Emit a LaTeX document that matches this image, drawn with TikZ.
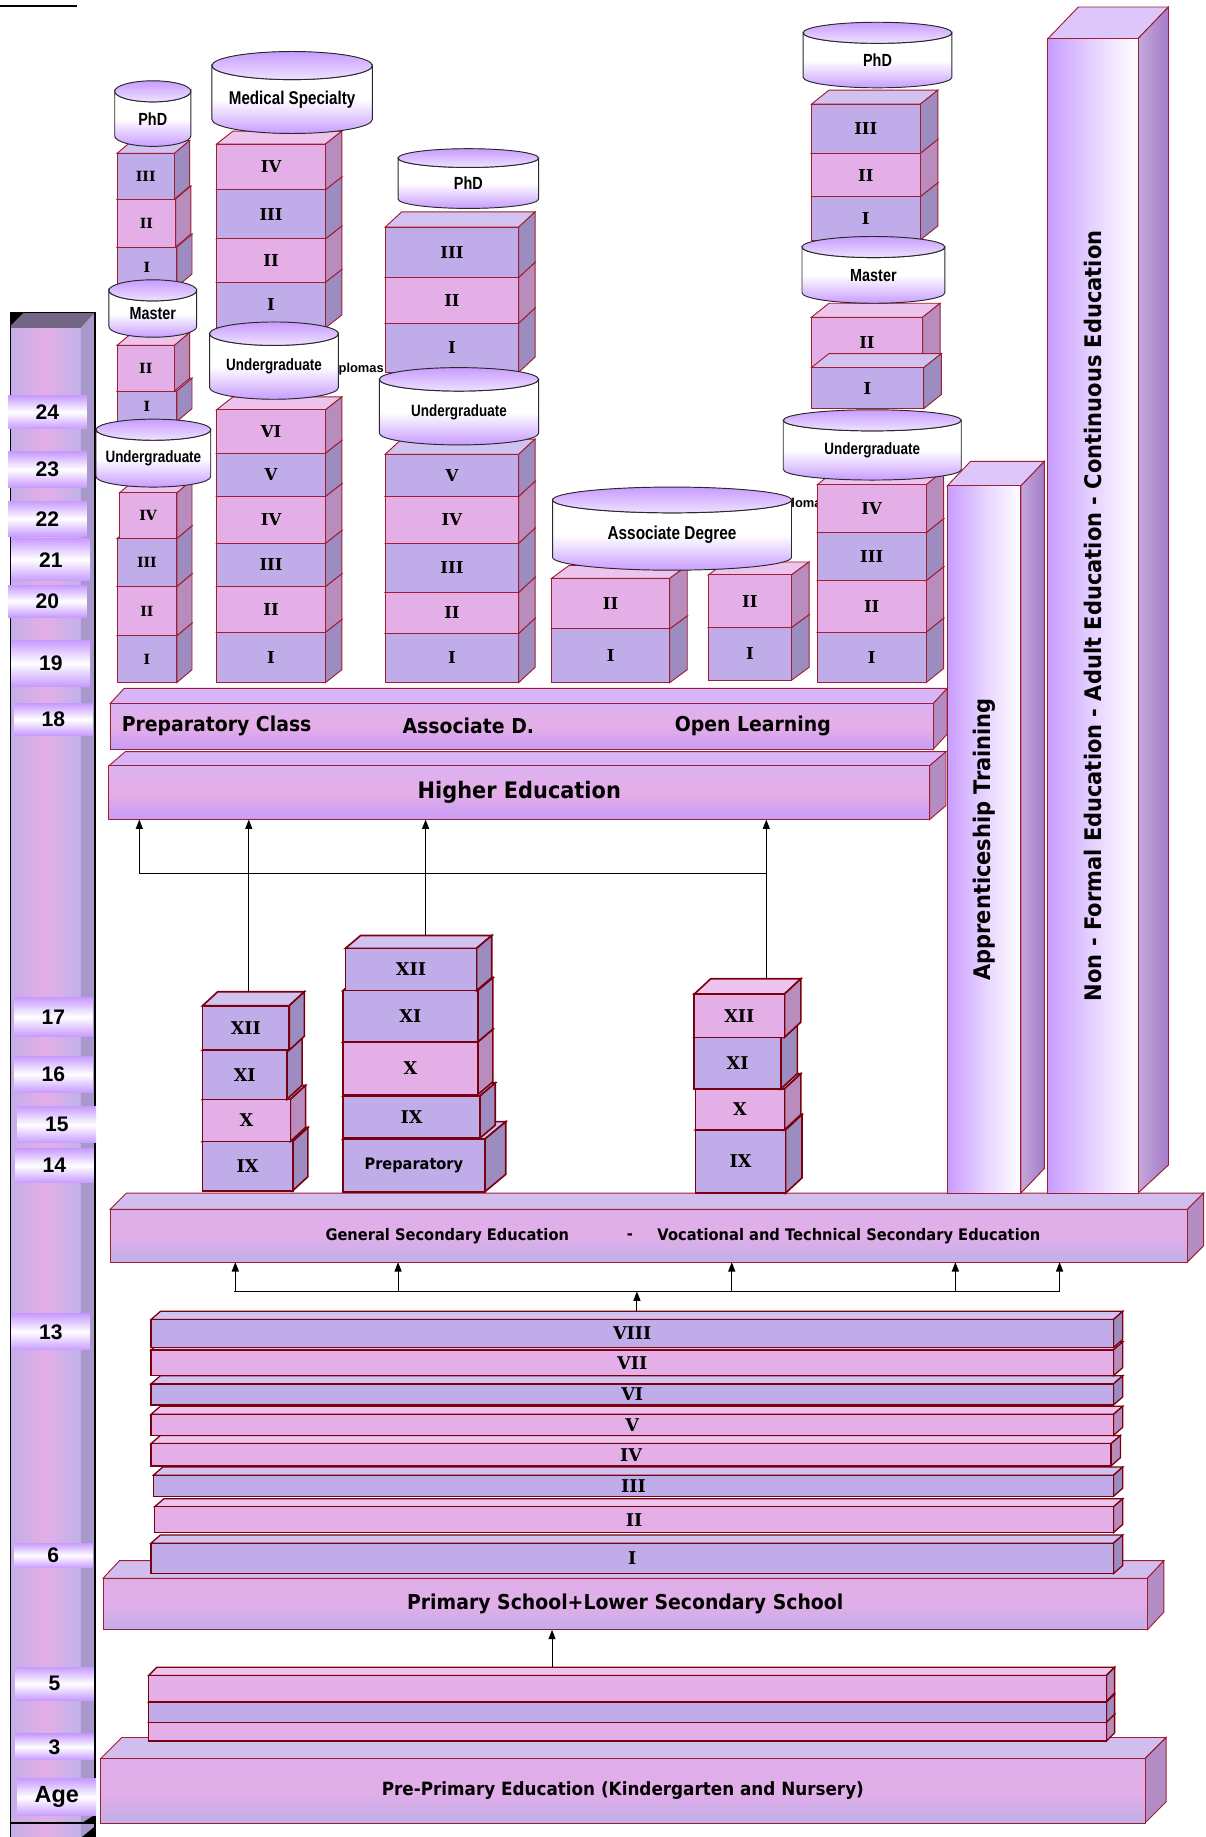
\documentclass[tikz,border=0pt]{standalone}
\usepackage{fontspec}
\usetikzlibrary{arrows.meta,positioning}

\newfontfamily\tahoma[FakeStretch=0.92]{DejaVu Sans}
\newfontfamily\narrowfont[FakeStretch=0.82]{Liberation Sans}
\newfontfamily\romanfont{DejaVu Serif}
\newfontfamily\agefont{Liberation Sans}
\newcommand{\sz}[1]{\fontsize{#1}{#1}\selectfont}

\definecolor{glav}{HTML}{C0ACE8}
\definecolor{glavtop}{HTML}{D2C2F0}
\definecolor{glavside}{HTML}{9C8CC0}
\definecolor{gpink}{HTML}{E4AEE6}
\definecolor{gpinktop}{HTML}{ECC4EE}
\definecolor{gpinkside}{HTML}{B88CBC}
\definecolor{cylv}{HTML}{C89CFF}
\definecolor{cylline}{HTML}{2A2A2A}
\definecolor{boxline}{HTML}{A01E32}
\definecolor{darkline}{HTML}{7A0010}
\definecolor{hiA}{HTML}{DCB2F2}
\definecolor{hiB}{HTML}{E4AEE6}
\definecolor{hiC}{HTML}{C89CF8}
\definecolor{hiTop}{HTML}{D8B4F8}
\definecolor{loA}{HTML}{DCAEE8}
\definecolor{loB}{HTML}{E2AEE8}
\definecolor{loC}{HTML}{C2AEEA}
\definecolor{loTop}{HTML}{D2BEEE}
\definecolor{sideBar}{HTML}{B48CC4}
\definecolor{ageL}{HTML}{C4AEE8}
\definecolor{ageR}{HTML}{C0B2EA}
\definecolor{ageSide}{HTML}{A898CC}
\definecolor{ageTop}{HTML}{716684}
\definecolor{tallTop}{HTML}{DCC6FA}
\definecolor{tallL}{HTML}{C4A8DC}
\definecolor{tallR}{HTML}{A47CC8}

\tikzset{
  bline/.style={draw=boxline, line width=0.8pt},
  heavy/.style={draw=darkline, line width=1.4pt},
  grade/.style={inner sep=0pt, outer sep=0pt, font=\romanfont\bfseries\sz{14}},
  cylbody/.style={draw=cylline, line width=0.8pt, top color=white, bottom color=cylv, middle color=white},
  cyltop/.style={draw=cylline, line width=0.8pt, top color=cylv, bottom color=cylv!30},
  cyltext/.style={font=\narrowfont\bfseries\sz{14}},
  wide/.style={inner sep=0pt, outer sep=0pt, font=\tahoma\bfseries\sz{19.4}},
  hifront/.style={top color=hiA, bottom color=hiC, middle color=hiB},
  lofront/.style={top color=loA, bottom color=loC, middle color=loB},
  bartext/.style={font=\tahoma\bfseries\sz{17.5}},
  agebox/.style={inner sep=0pt, minimum width=67pt, top color=cylv, bottom color=cylv, middle color=white, font=\agefont\bfseries\sz{18}},
  dipl/.style={font=\agefont\bfseries\sz{11}},
  tall/.style={inner sep=0pt, outer sep=0pt, bline, left color=cylv, right color=white, middle color=cylv!45},
  talltext/.style={rotate=90, font=\tahoma\bfseries\sz{19.5}},
  arr/.style={-{Triangle[length=8pt,width=6pt]}, line width=0.9pt},
}

% box with top and side face: [style]{name}{colour}{x1}{y1}{x2}{y2}{label}
\newcommand{\gbox}[8][]{%
  \pgfmathsetmacro{\bw}{#6-#4}%
  \pgfmathsetmacro{\bh}{#7-#5}%
  \filldraw[bline, fill=#3top, #1] (#4,#5) -- ++(\bdx,-\bdy) -- ++(\bw,0) -- (#6,#5) -- cycle;
  \filldraw[bline, fill=#3side, #1] (#6,#5) -- ++(\bdx,-\bdy) -- ++(0,\bh) -- (#6,#7) -- cycle;
  \node[bline, grade, fill=#3, minimum width=\bw pt, minimum height=\bh pt, anchor=north west, #1] (#2) at (#4,#5) {#8};
  \coordinate (#2-t) at ({(#4+#6+\bdx)/2},{#5-\bdy});
}
% wide level bar: [style]{name}{x1}{y1}{x2}{y2}{label}
\newcommand{\wbar}[7][]{%
  \pgfmathsetmacro{\bw}{#5-#3}%
  \pgfmathsetmacro{\bh}{#6-#4}%
  \filldraw[bline, fill=bartop] (#3,#4) -- ++(\bdx,-\bdy) -- ++(\bw,0) -- (#5,#4) -- cycle;
  \filldraw[bline, fill=sideBar] (#5,#4) -- ++(\bdx,-\bdy) -- ++(0,\bh) -- (#5,#6) -- cycle;
  \node[bline, wide, minimum width=\bw pt, minimum height=\bh pt, anchor=north west, #1] (#2) at (#3,#4) {#7};
}
% degree cylinder: [style]{name}{x1}{x2}{ytop}{ybot}{cap}{label}
\newcommand{\cyl}[8][]{%
  \pgfmathsetmacro{\cyr}{(#4-#3)/2}%
  \pgfmathsetmacro{\cyx}{(#4+#3)/2}%
  \filldraw[cylbody] (#3,#5+#7) -- (#3,#6-#7)
    arc[start angle=180, end angle=360, x radius=\cyr pt, y radius=#7 pt]
    -- (#4,#5+#7)
    arc[start angle=0, end angle=-180, x radius=\cyr pt, y radius=#7 pt] -- cycle;
  \filldraw[cyltop] (\cyx,#5+#7) ellipse[x radius=\cyr pt, y radius=#7 pt];
  \node[cyltext, #1] (#2) at (\cyx,{(#5+#6)/2+#7/2}) {#8};
}

\begin{document}
\begin{tikzpicture}[x=1pt, y=-1pt]
\useasboundingbox (0,0) rectangle (1030,1569);

\draw[line width=1.5pt] (0,5) -- (66,5);

% age column
\fill[left color=ageL, right color=ageR, middle color=gpink] (9,280) rectangle (69,1569);
\fill[ageSide] (69,280) -- (81,267) -- (81,1569) -- (69,1569) -- cycle;
\fill[ageTop] (9,280) -- (9,267) -- (81,267) -- (69,280) -- cycle;
\fill[black] (9,267) -- (20,267) -- (9,278) -- cycle;
\draw[line width=1.2pt] (9,1569) -- (9,267) -- (81,267) -- (81,1569);
\draw[line width=1pt] (9,1557) -- (81,1557);
\fill[black] (70,1557) -- (81,1550) -- (81,1557) -- cycle;
\fill[black] (70,1569) -- (81,1560) -- (81,1569) -- cycle;
\foreach \a/\ya/\yb/\xl in {24/338/366/7, 23/386/416/7, 22/428/458/7, 21/460/496/10,
    20/500/527/7, 19/547/586/10, 18/601/628/12, 17/852/885/12, 16/902/933/12,
    15/945/976/15, 14/981/1010/13, 13/1122/1153/10, 6/1318/1339/12, 5/1424/1452/13, 3/1481/1503/13} {
  \pgfmathsetmacro{\ah}{\yb-\ya}
  \node[agebox, minimum height=\ah pt] (age\a) at ({\xl+33.5},{(\ya+\yb)/2}) {\a};
}
\node[agebox, minimum height=32pt, font=\agefont\bfseries\sz{20}] (ageAge) at (48.5,1535) {Age};

% higher education
\colorlet{bartop}{hiTop}
\def\bdx{14}\def\bdy{12}
\wbar[hifront]{he}{93}{654}{794}{700}{Higher Education}
\def\bdx{12}\def\bdy{13}
\wbar[hifront]{prep}{94}{601}{797}{640}{}
\node[bartext] (pc) at (185,620) {Preparatory Class};
\node[bartext] (ad) at (400,620) {Associate D.};
\node[bartext] (ol) at (643,620) {Open Learning};

\node[dipl] (dip1) at (303,315) {Diplomas};
\node[dipl] (dip2) at (683,431) {Diplomas};

% first column
\def\bdx{13}\def\bdy{11}
\gbox[font=\romanfont\bfseries\sz{12}]{aI}{glav}{100}{543}{151}{583}{I}
\gbox[font=\romanfont\bfseries\sz{12}]{aII}{gpink}{100}{501}{151}{543}{II}
\gbox[font=\romanfont\bfseries\sz{12}]{aIII}{glav}{100}{460}{151}{501}{III}
\gbox[font=\romanfont\bfseries\sz{12}]{aIV}{gpink}{102}{421}{151}{460}{IV}
\gbox[font=\romanfont\bfseries\sz{12}]{amI}{glav}{100}{334}{151}{360}{I}
\gbox[font=\romanfont\bfseries\sz{12}]{amII}{gpink}{100}{295}{149}{334}{II}
\cyl{aund}{82}{180}{358}{416}{9}{Undergraduate}
\gbox[font=\romanfont\bfseries\sz{12}]{apI}{glav}{100}{211}{151}{245}{I}
\gbox[font=\romanfont\bfseries\sz{12}]{apII}{gpink}{100}{170}{150}{211}{II}
\gbox[font=\romanfont\bfseries\sz{12}]{apIII}{glav}{100}{131}{149}{170}{III}
\cyl[font=\narrowfont\bfseries\sz{15}]{amas}{93}{168}{239}{288}{9}{Master}
\cyl[font=\narrowfont\bfseries\sz{15}]{aphd}{98}{163}{69}{125}{9}{PhD}

% medical column
\def\bdx{14}\def\bdy{11}
\gbox{bI}{glav}{185}{540}{278}{583}{I}
\gbox{bII}{gpink}{185}{501}{278}{540}{II}
\gbox{bIII}{glav}{185}{464}{278}{501}{III}
\gbox{bIV}{gpink}{185}{424}{278}{464}{IV}
\gbox{bV}{glav}{185}{387}{278}{424}{V}
\gbox{bVI}{gpink}{185}{350}{278}{387}{VI}
\gbox{bmI}{glav}{185}{241}{278}{280}{I}
\gbox{bmII}{gpink}{185}{204}{278}{241}{II}
\gbox{bmIII}{glav}{185}{162}{278}{204}{III}
\gbox{bmIV}{gpink}{185}{123}{278}{162}{IV}
\cyl{bund}{179}{289}{275}{341}{10}{Undergraduate}
\cyl[font=\narrowfont\bfseries\sz{15.8}]{bmed}{181}{318}{44}{114}{12}{Medical Specialty}

% third column
\def\bdx{14}\def\bdy{13}
\gbox{cI}{glav}{329}{541}{443}{583}{I}
\gbox{cII}{gpink}{329}{506}{443}{541}{II}
\gbox{cIII}{glav}{329}{464}{443}{506}{III}
\gbox{cIV}{gpink}{329}{424}{443}{464}{IV}
\gbox{cV}{glav}{329}{388}{443}{424}{V}
\gbox{cpI}{glav}{329}{276}{443}{318}{I}
\gbox{cpII}{gpink}{329}{237}{443}{276}{II}
\gbox{cpIII}{glav}{329}{194}{443}{237}{III}
\cyl{cund}{324}{460}{314}{380}{10}{Undergraduate}
\cyl[font=\narrowfont\bfseries\sz{15}]{cphd}{340}{460}{127}{178}{8}{PhD}

% associate degree
\def\bdx{15}\def\bdy{11}
\gbox{alI}{glav}{471}{537}{572}{583}{I}
\gbox{alII}{gpink}{471}{494}{572}{537}{II}
\gbox{arI}{glav}{605}{536}{676}{581}{I}
\gbox{arII}{gpink}{605}{491}{676}{536}{II}
\cyl[font=\narrowfont\bfseries\sz{16}]{assoc}{472}{676}{416}{487}{11}{Associate Degree}

% right column
\def\bdx{15}\def\bdy{12}
\gbox{dI}{glav}{698}{540}{791}{583}{I}
\gbox{dII}{gpink}{698}{496}{791}{540}{II}
\gbox{dIII}{glav}{698}{455}{791}{496}{III}
\gbox{dIV}{gpink}{698}{414}{791}{455}{IV}
\gbox{dmII}{gpink}{693}{271}{788}{314}{II}
\gbox{dmI}{glav}{693}{314}{789}{349}{I}
\cyl{dund}{669}{821}{350}{410}{9}{Undergraduate}
\gbox{dpI}{glav}{693}{168}{786}{205}{I}
\gbox{dpII}{gpink}{693}{131}{786}{168}{II}
\gbox{dpIII}{glav}{693}{89}{786}{131}{III}
\cyl[font=\narrowfont\bfseries\sz{15}]{dmas}{685}{807}{202}{259}{9}{Master}
\cyl[font=\narrowfont\bfseries\sz{15}]{dphd}{686}{813}{19}{75}{9}{PhD}

% secondary level
\colorlet{bartop}{loTop}
\def\bdx{14}\def\bdy{14}
\wbar[lofront]{gse}{94}{1033}{1014}{1078}{}
\node[font=\tahoma\bfseries\sz{13.6}] (gsea) at (382,1056) {General Secondary Education};
\node[font=\tahoma\bfseries\sz{13.6}] (gseb) at (538,1056) {-};
\node[font=\tahoma\bfseries\sz{13.6}] (gsec) at (725,1056) {Vocational and Technical Secondary Education};

\def\bdx{13}\def\bdy{12}
\gbox[heavy, font=\romanfont\bfseries\sz{15}]{sAix}{glav}{173}{975}{250}{1017}{IX}
\gbox[heavy, font=\romanfont\bfseries\sz{15}]{sAx}{gpink}{173}{939}{248}{975}{X}
\gbox[heavy, font=\romanfont\bfseries\sz{15}]{sAxi}{glav}{173}{897}{245}{939}{XI}
\gbox[heavy, font=\romanfont\bfseries\sz{15}]{sAxii}{glav}{173}{859}{247}{897}{XII}
\def\bdx{18}\def\bdy{15}
\gbox[heavy, font=\tahoma\bfseries\sz{13.5}]{sBprep}{glav}{293}{973}{414}{1018}{Preparatory}
\def\bdx{13}\def\bdy{11}
\gbox[heavy, font=\romanfont\bfseries\sz{15}]{sBix}{glav}{293}{936}{410}{972}{IX}
\gbox[heavy, font=\romanfont\bfseries\sz{15}]{sBx}{gpink}{293}{890}{408}{935}{X}
\gbox[heavy, font=\romanfont\bfseries\sz{15}]{sBxi}{glav}{293}{846}{408}{890}{XI}
\gbox[heavy, font=\romanfont\bfseries\sz{15}]{sBxii}{glav}{295}{810}{407}{846}{XII}
\def\bdx{14}\def\bdy{13}
\gbox[heavy, font=\romanfont\bfseries\sz{15}]{sCix}{glav}{594}{965}{671}{1019}{IX}
\gbox[heavy, font=\romanfont\bfseries\sz{15}]{sCx}{gpink}{594}{930}{670}{965}{X}
\gbox[heavy, font=\romanfont\bfseries\sz{15}]{sCxi}{glav}{593}{886}{667}{930}{XI}
\gbox[heavy, font=\romanfont\bfseries\sz{15}]{sCxii}{gpink}{593}{849}{670}{886}{XII}

% into higher education
\coordinate (jl) at (119,746);
\coordinate (jr) at ([xshift=16pt]sCxii-t |- jl);
\draw[line width=0.9pt] (jl) -- (jr);
\draw[arr] (jl) -- (jl |- he.south);
\draw[arr] ([xshift=-4pt]sAxii-t) -- ([xshift=-4pt]sAxii-t |- he.south);
\draw[arr] ([xshift=6pt]sBxii-t) -- ([xshift=6pt]sBxii-t |- he.south);
\draw[arr] ([xshift=16pt]sCxii-t) -- ([xshift=16pt]sCxii-t |- he.south);

% apprenticeship and non-formal
\filldraw[bline, fill=tallTop] (809,415) -- (829,394) -- (892,394) -- (872,415) -- cycle;
\filldraw[bline, left color=tallL, right color=tallR] (872,415) -- (892,394) -- (892,998) -- (872,1019) -- cycle;
\node[tall, minimum width=63pt, minimum height=604pt, anchor=north west] (appr) at (809,415) {};
\node[talltext] (apprt) at (appr.center) {Apprenticeship Training};
\filldraw[bline, fill=tallTop] (895,33) -- (921,6) -- (998,6) -- (972,33) -- cycle;
\filldraw[bline, left color=tallL, right color=tallR] (972,33) -- (998,6) -- (998,995) -- (972,1019) -- cycle;
\node[tall, minimum width=77pt, minimum height=986pt, anchor=north west] (nonf) at (895,33) {};
\node[talltext] (nonft) at (nonf.center) {Non - Formal Education - Adult Education - Continuous Education};

% primary level
\def\bdx{14}\def\bdy{15}
\wbar[lofront, font=\tahoma\bfseries\sz{17.5}]{prim}{88}{1348}{980}{1392}{Primary School+Lower Secondary School}
\def\bdx{8}\def\bdy{7}
\gbox[heavy, font=\romanfont\bfseries\sz{15}, line width=1.1pt]{gI}{glav}{129}{1318}{951}{1344}{I}
\gbox[heavy, font=\romanfont\bfseries\sz{15}, line width=1.1pt]{gII}{gpink}{132}{1287}{951}{1309}{II}
\gbox[heavy, font=\romanfont\bfseries\sz{15}, line width=1.1pt]{gIII}{glav}{131}{1260}{951}{1278}{III}
\gbox[heavy, font=\romanfont\bfseries\sz{15}, line width=1.1pt]{gIV}{gpink}{129}{1233}{949}{1252}{IV}
\gbox[heavy, font=\romanfont\bfseries\sz{15}, line width=1.1pt]{gV}{gpink}{129}{1208}{951}{1226}{V}
\gbox[heavy, font=\romanfont\bfseries\sz{15}, line width=1.1pt]{gVI}{glav}{129}{1182}{951}{1200}{VI}
\gbox[heavy, font=\romanfont\bfseries\sz{15}, line width=1.1pt]{gVII}{gpink}{129}{1153}{951}{1175}{VII}
\gbox[heavy, font=\romanfont\bfseries\sz{15}, line width=1.1pt]{gVIII}{glav}{129}{1127}{951}{1151}{VIII}

% into secondary
\coordinate (bl) at (200,1103);
\coordinate (br) at (905,1103);
\draw[line width=0.9pt] (bl) -- (br);
\foreach \x in {201,340,625,816,905} \draw[arr] (\x,0 |- bl) -- (\x,0 |- gse.south);
\draw[arr] (gVIII-t) -- (gVIII-t |- bl);

% pre-primary level
\def\bdx{18}\def\bdy{18}
\wbar[lofront, font=\tahoma\bfseries\sz{15.6}]{pre}{86}{1502}{978}{1557}{Pre-Primary Education (Kindergarten and Nursery)}
\def\bdx{7}\def\bdy{7}
\gbox[heavy, line width=1.1pt]{kI}{gpink}{127}{1471}{945}{1487}{}
\gbox[heavy, line width=1.1pt]{kII}{glav}{127}{1454}{945}{1471}{}
\gbox[heavy, line width=1.1pt]{kIII}{gpink}{127}{1431}{945}{1453}{}
\draw[arr] ([xshift=-68pt]kIII-t) -- ([xshift=-68pt]kIII-t |- prim.south);

\end{tikzpicture}
\end{document}
